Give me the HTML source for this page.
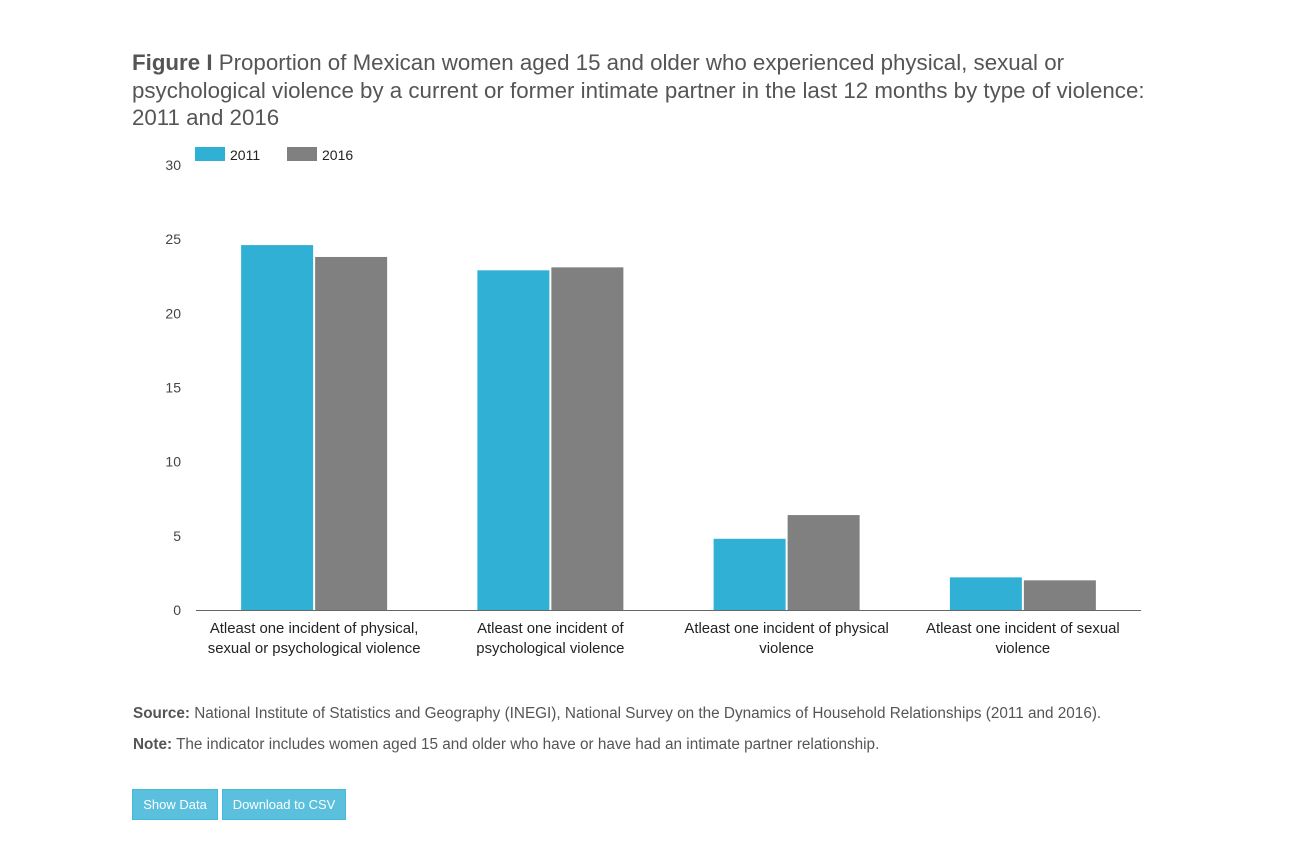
<!DOCTYPE html>
<html><head><meta charset="utf-8"><style>
body{margin:0;background:#fff;width:1295px;height:843px;position:relative;font-family:"Liberation Sans",sans-serif;color:#555}
.title{position:absolute;left:132px;top:49px;width:1150px;font-size:22.3px;line-height:27.5px;color:#555;white-space:nowrap}
.title b{color:#555}
.src{position:absolute;left:133px;font-size:15.3px;color:#555;white-space:nowrap}
.btn{position:absolute;top:789px;height:31px;background:#5bc0de;border:1px solid #46b8da;box-sizing:border-box;color:#fff;font-size:13px;line-height:29px;text-align:center}
svg{position:absolute;left:0;top:0}
</style></head><body>
<div class="title"><b>Figure I</b> Proportion of Mexican women aged 15 and older who experienced physical, sexual or<br>psychological violence by a current or former intimate partner in the last 12 months by type of violence:<br>2011 and 2016</div>
<svg id="chart" width="1295" height="843"></svg>
<div class="src" style="top:705px"><b>Source:</b> National Institute of Statistics and Geography (INEGI), National Survey on the Dynamics of Household Relationships (2011 and 2016).</div>
<div class="src" style="top:736px"><b>Note:</b> The indicator includes women aged 15 and older who have or have had an intimate partner relationship.</div>
<div class="btn" style="left:132px;width:86px">Show Data</div>
<div class="btn" style="left:222px;width:124px">Download to CSV</div>
<script>
const categories=[["Atleast one incident of physical,","sexual or psychological violence"],["Atleast one incident of","psychological violence"],["Atleast one incident of physical","violence"],["Atleast one incident of sexual","violence"]];
const series2011=[24.6,22.9,4.8,2.2];
const series2016=[23.8,23.1,6.4,2.0];
const ticks=[0,5,10,15,20,25,30];
const seriesNames=["2011","2016"];
const colors=["#31b0d5","#808080"];
const NS="http://www.w3.org/2000/svg";
const svg=document.getElementById('chart');
const x0=196,x1=1141,yb=610,yt=165,ymax=30;
const y=v=>yb-(v/ymax)*(yb-yt);
const gw=(x1-x0)/categories.length;
function mk(t,a){const e=document.createElementNS(NS,t);for(const k in a)e.setAttribute(k,a[k]);svg.appendChild(e);return e;}
ticks.forEach(t=>{const e=mk('text',{x:181,y:y(t)+5,'text-anchor':'end','font-size':14,fill:'#444','font-family':'Liberation Sans'});e.textContent=t;

});
const data=[series2011,series2016];
categories.forEach((c,i)=>{const cx=x0+gw*(i+0.5);
data.forEach((s,j)=>{const r=mk('rect',{x:j==0?cx-73:cx+1,y:y(s[i]),width:72,height:yb-y(s[i]),fill:colors[j]});

});
c.forEach((l,k)=>{const t=mk('text',{x:cx,y:633+k*20,'text-anchor':'middle','font-size':14.9,fill:'#222','font-family':'Liberation Sans'});t.textContent=l;

});});
const ax=mk('line',{x1:x0,x2:x1,y1:yb+0.5,y2:yb+0.5,stroke:'#666','stroke-width':1});


seriesNames.forEach((n,j)=>{const lx=195+j*92;
const r=mk('rect',{x:lx,y:147,width:30,height:14,fill:colors[j]});


const t=mk('text',{x:lx+35,y:160,'font-size':14,fill:'#222','font-family':'Liberation Sans'});t.textContent=n;

});
</script>
</body></html>
